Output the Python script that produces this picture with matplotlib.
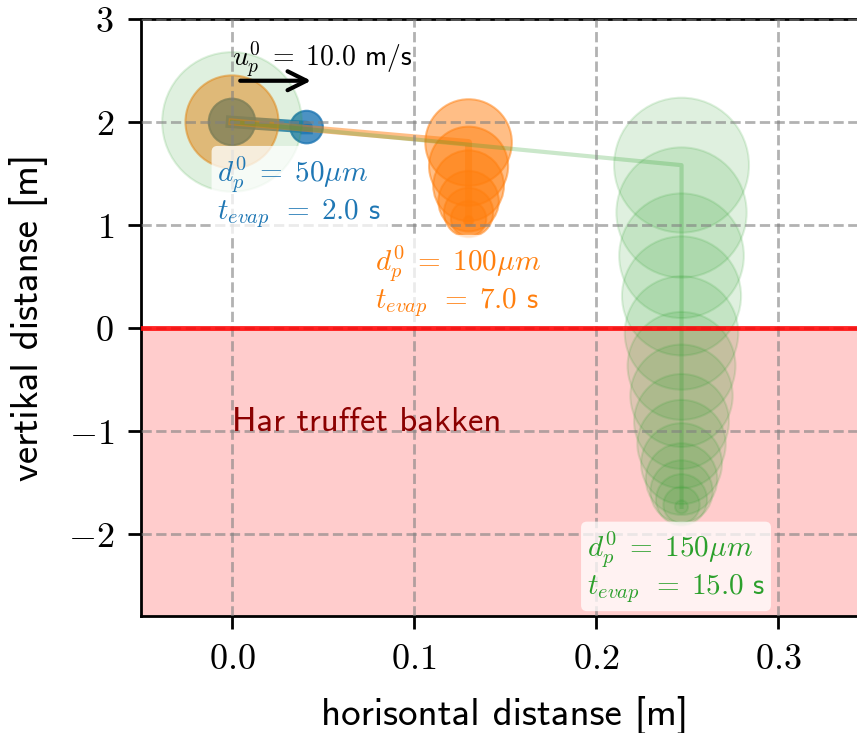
import matplotlib
matplotlib.use("Agg")
import matplotlib.pyplot as plt
from matplotlib.ticker import FuncFormatter, FixedLocator

plt.rcParams["font.family"] = "cmss10"
plt.rcParams["mathtext.fontset"] = "cm"
plt.rcParams["axes.unicode_minus"] = False

# initial droplet diameter [um], evaporation time [s], initial speed [m/s]
d0_um = [50, 100, 150]
t_evap = [2.0, 7.0, 15.0]
u0 = 10.0
colors = ["C0", "C1", "C2"]

# trajectories sampled once per second (x, y in m; d in um)
x_50 = [0.0, 0.041, 0.041]
y_50 = [2.0, 1.95, 1.94]
d_50 = [50, 35, 8]

x_100 = [0.0, 0.13, 0.13, 0.13, 0.13, 0.13, 0.13, 0.13]
y_100 = [2.0, 1.80, 1.57, 1.38, 1.23, 1.12, 1.06, 1.04]
d_100 = [100, 93, 85, 76, 65, 53, 38, 10]

x_150 = [0.0, 0.247, 0.247, 0.247, 0.247, 0.247, 0.247, 0.247,
         0.247, 0.247, 0.247, 0.247, 0.247, 0.247, 0.247, 0.247]
y_150 = [2.0, 1.58, 1.12, 0.70, 0.31, -0.05, -0.37, -0.66,
         -0.91, -1.13, -1.32, -1.47, -1.59, -1.67, -1.72, -1.74]
d_150 = [150, 145, 140, 134, 128, 122, 116, 110,
         102, 95, 87, 77, 67, 55, 39, 14]

trajs = [(x_50, y_50, d_50), (x_100, y_100, d_100), (x_150, y_150, d_150)]
fill_alpha = [0.8, 0.5, 0.15]
line_w = [9, 5, 3]
line_alpha = [0.85, 0.5, 0.25]
label_xy = [(-0.008, 1.32), (0.0786, 0.456), (0.195, -2.33)]

xlim = (-0.05, 0.35)
ylim = (-2.8, 3.0)
pt_per_um = 0.67

fig = plt.figure(figsize=(8.57, 7.33), dpi=100)
ax = fig.add_axes([0.1645, 0.1596, 0.8495, 0.8145])
ax.set_xlim(*xlim)
ax.set_ylim(*ylim)

# ground
ax.axhspan(ylim[0], 0, color="red", alpha=0.2, lw=0, zorder=0.5)
ax.axhline(0, color="red", lw=3.5, alpha=0.85, zorder=3)
ax.text(0.0, -1.0, "Har truffet bakken", color="darkred", fontsize=25,
        ha="left", va="baseline", zorder=3)

for (xs, ys, ds), c, fa, lw, la in zip(trajs, colors, fill_alpha, line_w, line_alpha):
    ax.plot(xs, ys, color=c, lw=lw, alpha=la, zorder=1)
    ax.scatter(xs, ys, s=[(pt_per_um * d) ** 2 for d in ds], color=c,
               alpha=fa, lw=1.5, zorder=1)

for (lx, ly), d0, te, c in zip(label_xy, d0_um, t_evap, colors):
    ax.text(lx, ly, rf"$d_p^0 \;=\; {d0} \mu m$" + "\n" + rf"$t_{{evap}}\, \;=\; {te:.1f}$ s",
            color=c, fontsize=21, ha="left", va="center", zorder=4, linespacing=1.1,
            bbox=dict(boxstyle="round,pad=0.2", fc="white", ec="none", alpha=0.75))

# initial velocity arrow
ax.annotate("", xy=(0.045, 2.4), xytext=(0.003, 2.4),
            arrowprops=dict(arrowstyle="->", color="black", lw=3, mutation_scale=34),
            zorder=4)
ax.text(0.0, 2.53, rf"$u_p^0 \;=\; {u0:.1f}$ m/s", fontsize=20, ha="left",
        va="baseline", zorder=4)

ax.set_axisbelow(False)
ax.grid(True, ls="--", color="gray", alpha=0.6, lw=2)
ax.xaxis.set_major_locator(FixedLocator([0.0, 0.1, 0.2, 0.3]))
ax.yaxis.set_major_locator(FixedLocator([-2, -1, 0, 1, 2, 3]))
ax.xaxis.set_major_formatter(FuncFormatter(lambda v, p: rf"${v:.1f}$"))
ax.yaxis.set_major_formatter(FuncFormatter(lambda v, p: rf"${v:.0f}$"))
ax.tick_params(direction="out", length=9.5, width=2, labelsize=26, pad=10)
for sp in ax.spines.values():
    sp.set_linewidth(2)

ax.set_xlabel("horisontal distanse [m]", fontsize=28, labelpad=14)
ax.set_ylabel("vertikal distanse [m]", fontsize=28, labelpad=14)

fig.savefig("out.png", dpi=100)
